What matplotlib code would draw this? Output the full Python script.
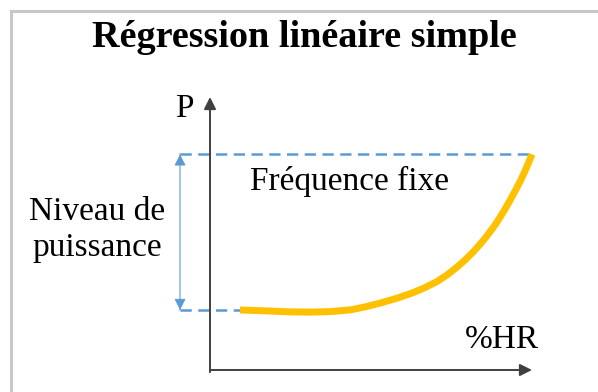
import matplotlib.pyplot as plt
from matplotlib.lines import Line2D

# Courbe puissance / humidité relative (schéma, unités arbitraires 0-100)
hr = [9.3, 14.0, 18.6, 24.8, 31.1, 37.3, 43.5, 48.1, 52.8, 58.1, 63.0, 66.8,
      70.5, 73.6, 76.7, 79.2, 81.7, 83.9, 86.0, 87.9, 89.4, 91.3, 93.2, 96.3, 98.1, 100.0]
puissance = [22.0, 21.8, 21.6, 21.3, 21.2, 21.4, 22.0, 23.1, 24.5, 26.3, 28.3, 30.2,
             32.4, 34.8, 37.7, 40.3, 43.2, 46.1, 49.1, 52.1, 54.7, 58.3, 62.2, 69.0, 73.6, 79.0]

titre = "Régression linéaire simple"
label_y = "P"
label_x = "%HR"
label_freq = "Fréquence fixe"

W, H = 598, 392
fig = plt.figure(figsize=(W / 100, H / 100), dpi=100)
fig.patch.set_facecolor("white")


def px(x, y):
    # position en pixels -> fraction de la figure
    return x / W, 1 - y / H


serif = ["Liberation Serif", "DejaVu Serif"]

# cadre gris (haut et gauche)
fig.add_artist(Line2D([10.5 / W, 1], [1 - 10.5 / H] * 2, transform=fig.transFigure,
                      color="#c8c8c8", lw=2.2))
fig.add_artist(Line2D([10.5 / W] * 2, [0, 1 - 10.5 / H], transform=fig.transFigure,
                      color="#c8c8c8", lw=2.2))

ax = fig.add_axes([210 / W, 22 / H, 322 / W, 273 / H])
ax.set_xlim(0, 100)
ax.set_ylim(0, 100)
ax.axis("off")

# axes avec flèches
axis_color = "#404040"
ax.annotate("", xy=(0, 1), xytext=(0, -0.008), xycoords="axes fraction",
            arrowprops=dict(arrowstyle="-|>,head_length=0.4,head_width=0.2",
                            mutation_scale=18, color=axis_color, lw=1.4,
                            shrinkA=0, shrinkB=0))
ax.annotate("", xy=(1, 0), xytext=(0, 0), xycoords="axes fraction",
            arrowprops=dict(arrowstyle="-|>,head_length=0.4,head_width=0.2",
                            mutation_scale=18, color=axis_color, lw=1.4,
                            shrinkA=0, shrinkB=0))

# lignes pointillées au niveau bas et haut de la courbe
blue = "#5b9bd5"
x_left = -9.3
ax.plot([x_left, hr[-1]], [puissance[-1], puissance[-1]], color=blue, lw=1.8,
        dashes=(4.5, 2.6), clip_on=False)
ax.plot([x_left, hr[0]], [puissance[0], puissance[0]], color=blue, lw=1.8,
        dashes=(4.5, 2.6), clip_on=False)

# double flèche "niveau de puissance"
ax.plot([x_left, x_left], [puissance[0], puissance[-1]], color="#9dc3e6", lw=1.3,
        clip_on=False)
for y_tip, y_from in [(puissance[-1], puissance[-1] - 4), (puissance[0], puissance[0] + 4)]:
    ax.annotate("", xy=(x_left, y_tip), xytext=(x_left, y_from),
                arrowprops=dict(arrowstyle="-|>,head_length=0.4,head_width=0.2",
                                mutation_scale=18, color=blue, lw=0.5,
                                shrinkA=0, shrinkB=0), annotation_clip=False)

# courbe
ax.plot(hr, puissance, color="#ffc000", lw=5, solid_capstyle="butt",
        solid_joinstyle="round", clip_on=False)

# textes
fig.text(*px(304, 47), titre, family=serif, fontsize=27.5, fontweight="bold",
         ha="center", va="baseline")
fig.text(*px(175, 117), label_y, family=serif, fontsize=24, ha="left", va="baseline")
fig.text(*px(465, 348), label_x, family=serif, fontsize=24, ha="left", va="baseline")
fig.text(*px(250, 190), label_freq, family=serif, fontsize=24, ha="left", va="baseline")
fig.text(*px(97, 220), "Niveau de", family=serif, fontsize=24, ha="center", va="baseline")
fig.text(*px(97, 256), "puissance", family=serif, fontsize=24, ha="center", va="baseline")

fig.savefig("out.png", dpi=100)
